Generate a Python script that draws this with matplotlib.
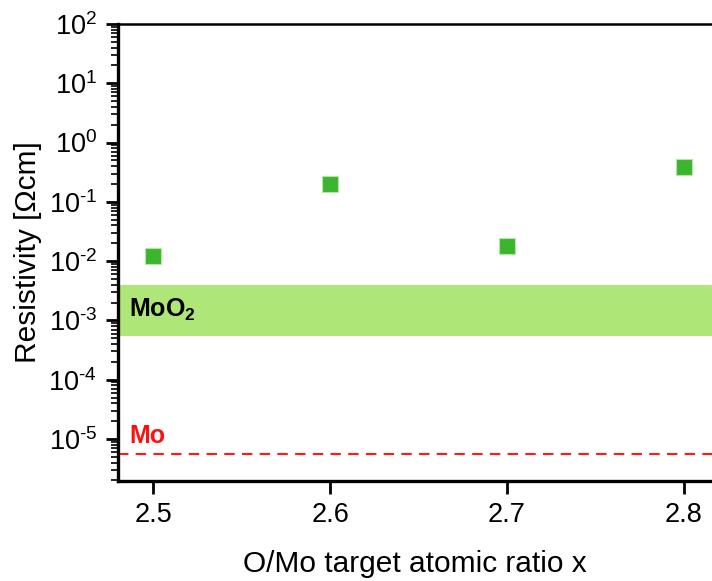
import matplotlib
matplotlib.use("Agg")
import matplotlib.pyplot as plt
from matplotlib.ticker import LogLocator, FixedLocator, NullFormatter

plt.rcParams['font.family'] = ['Liberation Sans', 'DejaVu Sans']
plt.rcParams['mathtext.fontset'] = 'custom'
plt.rcParams['mathtext.rm'] = 'Liberation Sans'
plt.rcParams['mathtext.it'] = 'Liberation Sans:italic'
plt.rcParams['mathtext.bf'] = 'Liberation Sans:bold'

# Measured resistivity vs. O/Mo target ratio
ratio = [2.5, 2.6, 2.7, 2.8]
resistivity = [0.0123, 0.20, 0.018, 0.39]

# Reference ranges
moo2_range = [5.4e-4, 4.0e-3]
mo_resistivity = 5.6e-6

xticks = [2.5, 2.6, 2.7, 2.8]
xtick_labels = ["2.5", "2.6", "2.7", "2.8"]
ydecades = [-5, -4, -3, -2, -1, 0, 1, 2]


def decade_label(d):
    sign = r'\text{-}' if d < 0 else ''
    return r'$\mathregular{10^{%s%d}}$' % (sign, abs(d))


fig = plt.figure(figsize=(7.12, 5.81), dpi=100)
ax = fig.add_axes([0.1657, 0.1721, 0.8343, 0.7866])

ax.set_yscale('log')
ax.set_xlim(2.48, 2.816)
ax.set_ylim(1.96e-6, 100)

ax.axhspan(moo2_range[0], moo2_range[1], color='#aee777', zorder=1, lw=0)
ax.axhline(mo_resistivity, color='#ff1a1a', ls=(0, (5, 3.5)), lw=1.5, zorder=2)

ax.plot(ratio, resistivity, ls='none', marker='s', markersize=11.5,
        markerfacecolor='#3cb52e', markeredgecolor='#b8e6a8',
        markeredgewidth=0.8, zorder=3)

ax.text(2.4865, 1.5e-3, r'MoO$_\mathbf{2}$', fontsize=18, fontweight='bold',
        color='black', va='center', ha='left', zorder=4)
ax.text(2.4865, 1.12e-5, 'Mo', fontsize=18, fontweight='bold',
        color='#ff1010', va='center', ha='left', zorder=4)

ax.spines['right'].set_visible(False)
ax.spines['left'].set_linewidth(2.4)
ax.spines['bottom'].set_linewidth(2.4)
ax.spines['top'].set_linewidth(1.8)

ax.xaxis.set_major_locator(FixedLocator(xticks))
ax.set_xticklabels(xtick_labels)
ax.yaxis.set_major_locator(FixedLocator([10.0 ** d for d in ydecades]))
ax.set_yticklabels([decade_label(d) for d in ydecades])
ax.yaxis.set_minor_locator(LogLocator(base=10, subs=range(2, 10), numticks=20))
ax.yaxis.set_minor_formatter(NullFormatter())

ax.tick_params(axis='both', which='major', direction='out', length=9,
               width=2.0, labelsize=19.5, pad=6)
ax.tick_params(axis='y', which='minor', direction='out', length=5, width=1.2)
ax.tick_params(axis='x', which='minor', bottom=False)
ax.tick_params(top=False, right=False)

ax.set_xlabel('O/Mo target atomic ratio x', fontsize=21.5, labelpad=16)
ax.set_ylabel('Resistivity [Ωcm]', fontsize=21.5)
ax.yaxis.set_label_coords(-0.128, 0.5)

fig.savefig('out.png', dpi=100)
